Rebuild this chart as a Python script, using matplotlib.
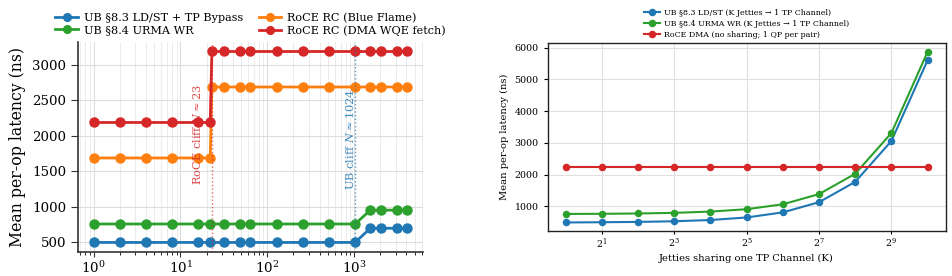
import matplotlib
matplotlib.use("Agg")
import matplotlib.pyplot as plt
from matplotlib.ticker import LogFormatterMathtext, NullLocator, LogLocator

plt.rcParams['font.family'] = ['DejaVu Serif']
plt.rcParams['mathtext.fontset'] = 'dejavuserif'

# ---- Left panel data ----
n_ub = [1, 2, 4, 8, 16, 22, 32, 48, 64, 128, 256, 512, 1024, 1536, 2048, 3072, 4096]
ub_ldst = [500, 500, 500, 500, 500, 500, 500, 500, 500, 500, 500, 500, 500, 700, 700, 700, 700]
ub_urma = [760, 760, 760, 760, 760, 760, 760, 760, 760, 760, 760, 760, 760, 955, 955, 955, 955]
n_roce = [1, 2, 4, 8, 16, 22, 23, 32, 48, 64, 128, 256, 512, 1024, 1536, 2048, 3072, 4096]
roce_bf = [1690, 1690, 1690, 1690, 1690, 1690, 2690, 2690, 2690, 2690, 2690, 2690, 2690, 2690, 2690, 2690, 2690, 2690]
roce_dma = [2190, 2190, 2190, 2190, 2190, 2190, 3190, 3190, 3190, 3190, 3190, 3190, 3190, 3190, 3190, 3190, 3190, 3190]
roce_cliff = 23
ub_cliff = 1024

# ---- Right panel data ----
k_vals = [1, 2, 4, 8, 16, 32, 64, 128, 256, 512, 1024]
k_ldst = [497, 505, 515, 535, 575, 655, 815, 1135, 1775, 3060, 5600]
k_urma = [765, 770, 780, 800, 840, 915, 1070, 1390, 2030, 3310, 5865]
k_roce = [2235, 2235, 2235, 2235, 2235, 2235, 2235, 2235, 2235, 2235, 2235]

C_BLUE, C_ORANGE, C_GREEN, C_RED = '#1f77b4', '#ff7f0e', '#2ca02c', '#d62728'

fig = plt.figure(figsize=(9.53, 2.76), dpi=100)

# Left axes
ax1 = fig.add_axes([0.0818, 0.087, 0.3621, 0.761])
ms1 = 6.5
ax1.plot(n_ub, ub_ldst, '-o', color=C_BLUE, lw=2, ms=ms1, label='UB §8.3 LD/ST + TP Bypass')
ax1.plot(n_ub, ub_urma, '-o', color=C_GREEN, lw=2, ms=ms1, label='UB §8.4 URMA WR')
ax1.plot(n_roce, roce_bf, '-o', color=C_ORANGE, lw=2, ms=ms1, label='RoCE RC (Blue Flame)')
ax1.plot(n_roce, roce_dma, '-o', color=C_RED, lw=2, ms=ms1, label='RoCE RC (DMA WQE fetch)')
ax1.axvline(roce_cliff, color=C_RED, ls=':', lw=1, alpha=0.7)
ax1.axvline(ub_cliff, color=C_BLUE, ls=':', lw=1, alpha=0.7)
ax1.text(15.5, 2020, r'RoCE cliff $N\approx23$', rotation=90, color=C_RED, fontsize=8.2,
         ha='center', va='center', alpha=0.85)
ax1.text(890, 1960, r'UB cliff $N\approx1024$', rotation=90, color=C_BLUE, fontsize=8.2,
         ha='center', va='center', alpha=0.85)
ax1.set_xscale('log')
ax1.xaxis.set_minor_locator(LogLocator(base=10, subs=range(2, 10), numticks=20))
ax1.set_ylabel('Mean per-op latency (ns)', fontsize=11.3)
ax1.set_yticks([500, 1000, 1500, 2000, 2500, 3000])
ax1.tick_params(labelsize=9.6, direction='out', color='#333333')
ax1.tick_params(axis='y', length=5)
ax1.tick_params(axis='x', which='major', length=3.5, pad=2.5)
ax1.tick_params(axis='x', which='minor', length=2.5)
ax1.grid(True, which='major', color='#dddddd', lw=0.8)
ax1.grid(True, which='minor', axis='x', color='#e8e8e8', lw=0.6)
ax1.set_axisbelow(True)
for s in ['top', 'right']:
    ax1.spines[s].set_visible(False)
for s in ['left', 'bottom']:
    ax1.spines[s].set_color('#333333')
    ax1.spines[s].set_linewidth(1.2)
ax1.legend(loc='lower center', bbox_to_anchor=(0.5, 1.0), ncol=2, frameon=False,
           fontsize=8.1, handlelength=2.0, columnspacing=1.4, handletextpad=0.5,
           labelspacing=0.2, borderaxespad=0.15, markerscale=0.85)

# Right axes
ax2 = fig.add_axes([0.5747, 0.163, 0.4176, 0.680])
ms2 = 4.4
ax2.plot(k_vals, k_ldst, '-o', color=C_BLUE, lw=1.5, ms=ms2, label='UB §8.3 LD/ST (K Jetties → 1 TP Channel)')
ax2.plot(k_vals, k_urma, '-o', color=C_GREEN, lw=1.5, ms=ms2, label='UB §8.4 URMA WR (K Jetties → 1 TP Channel)')
ax2.plot(k_vals, k_roce, '-o', color=C_RED, lw=1.5, ms=ms2, label='RoCE DMA (no sharing; 1 QP per pair)')
ax2.set_xscale('log', base=2)
ax2.set_xticks([2, 8, 32, 128, 512])
ax2.xaxis.set_major_formatter(LogFormatterMathtext(base=2))
ax2.xaxis.set_minor_locator(NullLocator())
ax2.set_yticks([1000, 2000, 3000, 4000, 5000, 6000])
ax2.set_xlabel('Jetties sharing one TP Channel (K)', fontsize=7.1, labelpad=2)
ax2.set_ylabel('Mean per-op latency (ns)', fontsize=7.1)
ax2.tick_params(labelsize=6.8, direction='out', length=3)
ax2.tick_params(axis='x', pad=2, length=2)
ax2.grid(True, color='#e0e0e0', lw=0.8)
ax2.set_axisbelow(True)
for s in ax2.spines.values():
    s.set_color('#222222')
    s.set_linewidth(1.0)
ax2.legend(loc='lower center', bbox_to_anchor=(0.5, 1.0), ncol=1, frameon=False,
           fontsize=5.7, handlelength=2.0, handletextpad=0.5, labelspacing=0.35,
           borderaxespad=0.2)

fig.savefig('out.png', dpi=100)
